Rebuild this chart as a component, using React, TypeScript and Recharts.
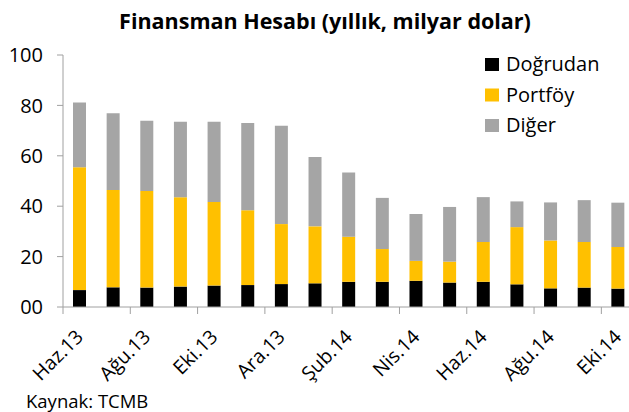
import React from 'react';
import { BarChart, Bar, XAxis, YAxis, Legend } from 'recharts';

const months = ['Haz.13','Tem.13','Ağu.13','Eyl.13','Eki.13','Kas.13','Ara.13','Oca.14','Şub.14','Mar.14','Nis.14','May.14','Haz.14','Tem.14','Ağu.14','Eyl.14','Eki.14'];
const dogrudan = [6.7, 7.8, 7.7, 8.1, 8.5, 8.7, 9.1, 9.4, 10.0, 10.0, 10.4, 9.7, 10.0, 9.0, 7.4, 7.7, 7.3];
const portfoy = [48.8, 38.6, 38.3, 35.5, 33.2, 29.7, 23.8, 22.6, 17.9, 13.0, 7.9, 8.3, 15.8, 22.7, 19.0, 18.1, 16.5];
const diger = [25.7, 30.5, 27.9, 29.9, 31.8, 34.6, 39.0, 27.5, 25.5, 20.3, 18.6, 21.7, 17.8, 10.2, 15.1, 16.6, 17.6];
const seriesNames = ['Doğrudan', 'Portföy', 'Diğer'];
const yTicks = [0, 20, 40, 60, 80, 100];
const yTickLabels = ['00', '20', '40', '60', '80', '100'];

const title = 'Finansman Hesabı (yıllık, milyar dolar)';
const source = 'Kaynak: TCMB';

const data = months.map((m, i) => ({ month: m, dogrudan: dogrudan[i], portfoy: portfoy[i], diger: diger[i] }));

const FONT = '"Open Sans", "Noto Sans", sans-serif';
const AXIS = '#A0A0A0';
const CHART_W = 650;
const CHART_H = 412;
const MARGIN = { top: 55, right: 15, bottom: 45, left: 0 };
const YAXIS_W = 63;
const PLOT_W = CHART_W - MARGIN.left - MARGIN.right - YAXIS_W;
const BAND = PLOT_W / months.length;

const XTick = (props: any) => {
  const { x, y, payload } = props;
  const idx = payload.index ?? months.indexOf(payload.value);
  if (idx % 2 !== 0) return null;
  return (
    <g>
      <line x1={x - BAND / 2} x2={x - BAND / 2} y1={y} y2={y + 7} stroke={AXIS} strokeWidth={1} />
      <text
        transform={`translate(${x + 4.5},${y + 31}) rotate(-45)`}
        textAnchor="end"
        fontSize={19.5}
        fontFamily={FONT}
        fill="#000"
      >
        {payload.value}
      </text>
    </g>
  );
};

const LegendContent = (props: any) => {
  const items = [...(props.payload || [])].sort(
    (a: any, b: any) => seriesNames.indexOf(a.value) - seriesNames.indexOf(b.value)
  );
  return (
    <svg width={150} height={100}>
      {items.map((p: any, i: number) => {
        const base = 21 + i * 30.5;
        return (
          <g key={i}>
            <rect x={5} y={base - 13} width={14} height={13} fill={p.color} />
            <text x={26} y={base} fontSize={20} fontFamily={FONT} fill="#000">{p.value}</text>
          </g>
        );
      })}
    </svg>
  );
};

export default function App() {
  return (
    <div style={{ position: 'absolute', left: 0, top: 0, width: 629, height: 412, overflow: 'hidden', background: '#fff' }}>
      <BarChart width={CHART_W} height={CHART_H} data={data} margin={MARGIN} barSize={13}>
        <XAxis
          dataKey="month"
          interval={0}
          tickLine={false}
          tickSize={0}
          tickMargin={0}
          axisLine={{ stroke: AXIS }}
          tick={<XTick />}
          height={60}
        />
        <YAxis
          domain={[0, 100]}
          ticks={yTicks}
          width={YAXIS_W}
          tickSize={6}
          tickMargin={14}
          tickLine={{ stroke: AXIS }}
          axisLine={{ stroke: AXIS }}
          tickFormatter={(v: number) => yTickLabels[yTicks.indexOf(v)] ?? String(v)}
          tick={{ fontSize: 20, fontFamily: FONT, fill: '#000' }}
        />
        <Legend
          layout="horizontal"
          verticalAlign="middle"
          align="center"
          content={<LegendContent />}
          wrapperStyle={{ position: 'absolute', left: 480, top: 50, width: 150, height: 100 }}
        />
        <Bar dataKey="dogrudan" name={seriesNames[0]} stackId="a" fill="#000000" isAnimationActive={false} />
        <Bar dataKey="portfoy" name={seriesNames[1]} stackId="a" fill="#FFC000" isAnimationActive={false} />
        <Bar dataKey="diger" name={seriesNames[2]} stackId="a" fill="#A5A5A5" isAnimationActive={false} />
      </BarChart>
      <svg width={629} height={412} style={{ position: 'absolute', left: 0, top: 0, pointerEvents: 'none' }}>
        <text x={325} y={29} textAnchor="middle" fontSize={21.5} fontWeight="bold" fontFamily={FONT} fill="#000">{title}</text>
        <text x={26} y={408} fontSize={18.5} fontFamily={FONT} fill="#000">{source}</text>
      </svg>
    </div>
  );
}
